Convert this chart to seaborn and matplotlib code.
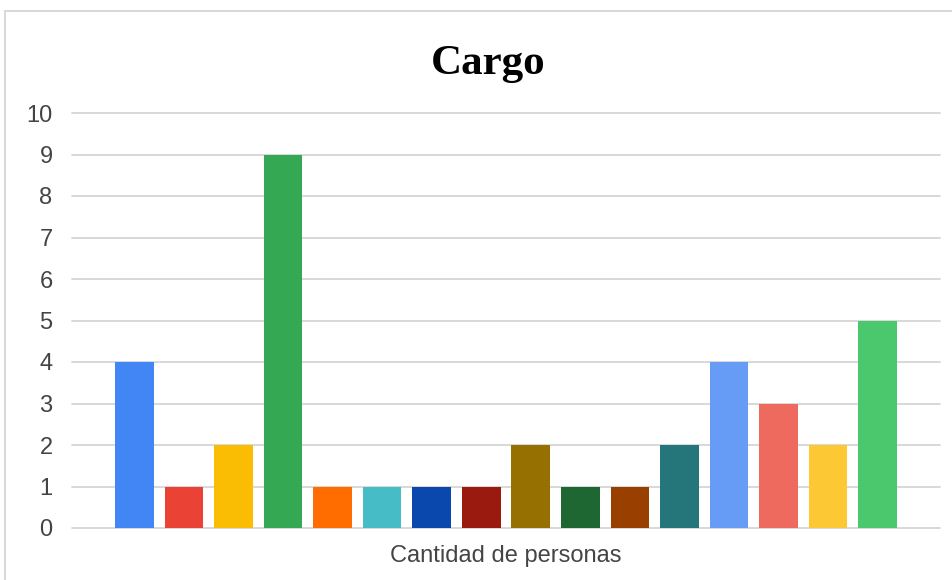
import matplotlib
matplotlib.use("Agg")
import matplotlib.pyplot as plt
from matplotlib.patches import Rectangle
import seaborn as sns
import pandas as pd

# Data
categoria = "Cantidad de personas"
series = [f"Cargo {i}" for i in range(1, 17)]
valores = [4, 1, 2, 9, 1, 1, 1, 1, 2, 1, 1, 2, 4, 3, 2, 5]
colores = ["#4285F4", "#EA4335", "#FBBC04", "#34A853", "#FF6D01", "#46BDC6",
           "#0B48AE", "#9A1A10", "#967000", "#1E6632", "#994000", "#25767A",
           "#679CF6", "#EE6A5F", "#FCC934", "#4BC76D"]
yticks = list(range(0, 11))
titulo = "Cargo"

df = pd.DataFrame({"cat": [categoria] * len(series), "serie": series, "valor": valores})

sns.set_theme(style="white")
plt.rcParams['font.family'] = ['Liberation Sans', 'DejaVu Sans']

W, H = 953, 580
fig = plt.figure(figsize=(W / 100, H / 100), dpi=100)
ax = fig.add_axes([72 / W, (H - 528) / H, (940 - 72) / W, (528 - 113) / H])

sns.barplot(data=df, x="cat", y="valor", hue="serie", palette=colores,
            width=0.8, gap=0.22, legend=False, ax=ax, saturation=1,
            linewidth=0, zorder=3)

ax.set_ylim(0, 10)
ax.set_xlim(-0.438, 0.438)
ax.set_yticks(yticks)
ax.set_yticklabels([str(t) for t in yticks])
ax.grid(axis="y", color="#d6d6d6", linewidth=1.3, zorder=0)
for gl in ax.get_ygridlines():
    gl.set_clip_on(False)
ax.set_axisbelow(True)
for s in ax.spines.values():
    s.set_visible(False)
ax.tick_params(axis="y", length=0, pad=14, labelsize=17, labelcolor="#444444")
ax.tick_params(axis="x", length=0, pad=12, labelsize=17, labelcolor="#444444")
ax.set_xlabel("")
ax.set_ylabel("")

fig.text(488 / W, (H - 74) / H, titulo, ha="center", va="baseline",
         fontsize=31, fontweight="bold", family=["Liberation Serif", "DejaVu Serif"],
         color="#000000")

fig.add_artist(Rectangle((5 / W, -0.1), 1.2, (H - 11) / H + 0.1, transform=fig.transFigure,
                         fill=False, edgecolor="#d9d9d9", linewidth=1.5))

fig.savefig("out.png", dpi=100)
